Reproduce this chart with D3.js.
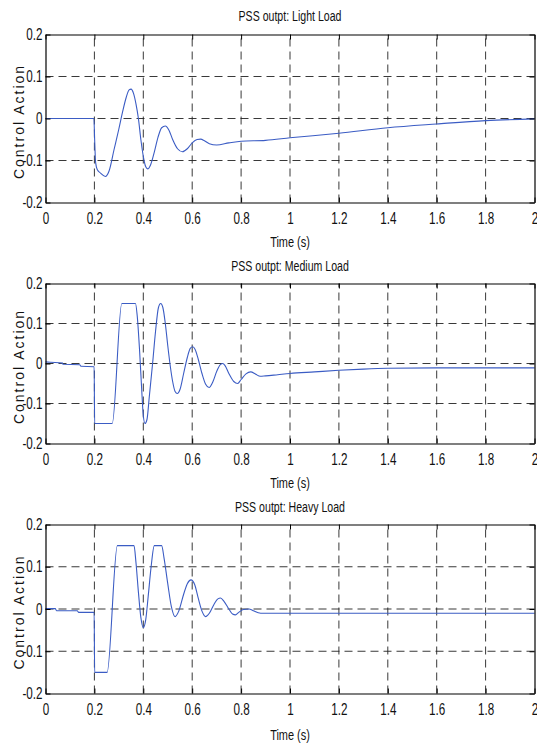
<!DOCTYPE html>
<html>
<head>
<meta charset="utf-8">
<script src="https://cdn.jsdelivr.net/npm/d3@7"></script>
<style>
  html, body { margin: 0; padding: 0; background: #fff; }
  svg { display: block; font-family: "Liberation Sans", Arial, Helvetica, sans-serif; }
</style>
</head>
<body>
<svg id="chart" width="537" height="744"></svg>
<script>
// Axis ticks shared by the three panels
const xTicks = [0, 0.2, 0.4, 0.6, 0.8, 1, 1.2, 1.4, 1.6, 1.8, 2];
const yTicks = [-0.2, -0.1, 0, 0.1, 0.2];

const panelTitles = ["PSS outpt: Light Load", "PSS outpt: Medium Load", "PSS outpt: Heavy Load"];
const xLabel = "Time (s)";
const yLabel = "Control Action";

// PSS output [time (s), control action]
const lightLoad = [
  [0, 0], [0.198, 0], [0.201, -0.05], [0.205, -0.105], [0.212, -0.122], [0.225, -0.13],
  [0.245, -0.138], [0.26, -0.125], [0.28, -0.075], [0.3, -0.025], [0.315, 0.015],
  [0.33, 0.05], [0.342, 0.068], [0.35, 0.07], [0.36, 0.06], [0.37, 0.035], [0.38, 0.0],
  [0.39, -0.05], [0.4, -0.09], [0.41, -0.115], [0.418, -0.12], [0.43, -0.11],
  [0.445, -0.08], [0.46, -0.045], [0.475, -0.022], [0.49, -0.018], [0.505, -0.028],
  [0.52, -0.05], [0.54, -0.072], [0.56, -0.079], [0.58, -0.072], [0.6, -0.058],
  [0.62, -0.05], [0.635, -0.049], [0.65, -0.053], [0.67, -0.06], [0.7, -0.063],
  [0.75, -0.058], [0.8, -0.054], [0.9, -0.052], [1.0, -0.046], [1.2, -0.035],
  [1.4, -0.022], [1.6, -0.013], [1.8, -0.005], [2.0, -0.001]
];

const mediumLoad = [
  [0, 0.004], [0.02, 0.003], [0.07, 0.001], [0.071, -0.002], [0.14, -0.003], [0.145, -0.007],
  [0.199, -0.008], [0.201, -0.15], [0.273, -0.15], [0.312, 0.15], [0.368, 0.15],
  [0.375, 0.12], [0.385, 0.03], [0.393, -0.06], [0.4, -0.13], [0.407, -0.15], [0.415, -0.14],
  [0.425, -0.08], [0.438, 0], [0.45, 0.08], [0.462, 0.14], [0.471, 0.15], [0.48, 0.14],
  [0.49, 0.1], [0.5, 0.045], [0.51, -0.005], [0.52, -0.045], [0.53, -0.07], [0.539, -0.075],
  [0.55, -0.065], [0.565, -0.025], [0.58, 0.015], [0.592, 0.038], [0.602, 0.042],
  [0.612, 0.035], [0.625, 0.01], [0.64, -0.025], [0.655, -0.052], [0.669, -0.06],
  [0.685, -0.045], [0.7, -0.02], [0.715, -0.003], [0.725, 0], [0.735, -0.006],
  [0.75, -0.025], [0.77, -0.045], [0.786, -0.05], [0.8, -0.04], [0.82, -0.026],
  [0.839, -0.021], [0.86, -0.027], [0.878, -0.032], [0.9, -0.031], [0.95, -0.028],
  [1.0, -0.025], [1.1, -0.021], [1.2, -0.017], [1.3, -0.014], [1.4, -0.012],
  [1.6, -0.011], [2.0, -0.011]
];

const heavyLoad = [
  [0, 0.001], [0.04, 0.001], [0.045, -0.004], [0.13, -0.004], [0.135, -0.008],
  [0.199, -0.008], [0.201, -0.15], [0.252, -0.15], [0.294, 0.15], [0.362, 0.15],
  [0.37, 0.11], [0.38, 0.04], [0.39, -0.02], [0.4, -0.044], [0.41, -0.025], [0.42, 0.03],
  [0.432, 0.1], [0.445, 0.15], [0.475, 0.15], [0.485, 0.12], [0.5, 0.06], [0.515, 0.005],
  [0.53, -0.018], [0.545, -0.005], [0.565, 0.035], [0.58, 0.06], [0.595, 0.069],
  [0.61, 0.058], [0.625, 0.025], [0.64, -0.005], [0.655, -0.018], [0.67, -0.01],
  [0.69, 0.012], [0.705, 0.024], [0.716, 0.026], [0.73, 0.018], [0.75, 0.0],
  [0.765, -0.012], [0.777, -0.014], [0.79, -0.008], [0.81, -0.001], [0.832, 0.0],
  [0.85, -0.004], [0.87, -0.009], [0.88, -0.01], [2.0, -0.01]
];

// Layout of the three stacked axes
const plotLeft = 45.5, plotRight = 534.5;
const squeeze = 0.73;          // narrow lettering
const lineColor = "#3b5cc4";

const panels = [
  { title: panelTitles[0], data: lightLoad,  top: 34.5,  bottom: 202.5, titleY: 21,  xLabelY: 247 },
  { title: panelTitles[1], data: mediumLoad, top: 283.5, bottom: 443.5, titleY: 271, xLabelY: 488 },
  { title: panelTitles[2], data: heavyLoad,  top: 524.5, bottom: 693.5, titleY: 512, xLabelY: 740 }
];

const svg = d3.select("#chart");
svg.append("rect").attr("width", 537).attr("height", 744).attr("fill", "#fff");

const fmt = d => String(+d.toFixed(1));

panels.forEach(p => {
  const x = d3.scaleLinear().domain([0, 2]).range([plotLeft, plotRight]);
  const y = d3.scaleLinear().domain([-0.2, 0.2]).range([p.bottom, p.top]);
  const g = svg.append("g");

  // dashed grid
  g.append("g").selectAll("line").data(xTicks.slice(1, -1)).join("line")
    .attr("x1", d => x(d)).attr("x2", d => x(d))
    .attr("y1", p.bottom).attr("y2", p.top)
    .attr("stroke", "#222").attr("stroke-width", 0.9).attr("stroke-dasharray", "8,5");
  g.append("g").selectAll("line").data(yTicks.slice(1, -1)).join("line")
    .attr("y1", d => y(d)).attr("y2", d => y(d))
    .attr("x1", plotLeft).attr("x2", plotRight)
    .attr("stroke", "#222").attr("stroke-width", 0.9).attr("stroke-dasharray", "8,5");

  // response curve
  const line = d3.line().x(d => x(d[0])).y(d => y(d[1])).curve(d3.curveMonotoneX);
  g.append("path").datum(p.data)
    .attr("d", line).attr("fill", "none")
    .attr("stroke", lineColor).attr("stroke-width", 1.1);

  // axes with inward ticks
  const bottomAxis = d3.axisBottom(x).tickValues(xTicks).tickFormat(fmt)
    .tickSizeInner(-5).tickSizeOuter(0).tickPadding(10);
  const leftAxis = d3.axisLeft(y).tickValues(yTicks).tickFormat(fmt)
    .tickSizeInner(-5).tickSizeOuter(0).tickPadding(3 / squeeze);
  const topAxis = d3.axisTop(x).tickValues(xTicks).tickFormat("")
    .tickSizeInner(-5).tickSizeOuter(0);
  const rightAxis = d3.axisRight(y).tickValues(yTicks).tickFormat("")
    .tickSizeInner(-5).tickSizeOuter(0);

  const styleAxis = sel => {
    sel.select(".domain").attr("stroke", "#000").attr("stroke-width", 1.2);
    sel.selectAll(".tick line").attr("stroke", "#000");
    sel.selectAll(".tick text")
      .attr("fill", "#111")
      .attr("font-size", 16)
      .attr("font-family", "Liberation Sans, Arial, sans-serif")
      .attr("transform", `scale(${squeeze},1)`);
  };

  g.append("g").attr("transform", `translate(0,${p.bottom})`).call(bottomAxis).call(styleAxis);
  g.append("g").attr("transform", `translate(${plotLeft},0)`).call(leftAxis).call(styleAxis);
  g.append("g").attr("transform", `translate(0,${p.top})`).call(topAxis).call(styleAxis);
  g.append("g").attr("transform", `translate(${plotRight},0)`).call(rightAxis).call(styleAxis);

  // title
  g.append("text")
    .attr("transform", `translate(${(plotLeft + plotRight) / 2},${p.titleY}) scale(${squeeze},1)`)
    .attr("text-anchor", "middle").attr("font-size", 14.5).attr("fill", "#111")
    .text(p.title);

  // x label
  g.append("text")
    .attr("transform", `translate(${(plotLeft + plotRight) / 2},${p.xLabelY}) scale(${squeeze},1)`)
    .attr("text-anchor", "middle").attr("font-size", 15).attr("fill", "#111")
    .text(xLabel);

  // y label
  g.append("text")
    .attr("transform", `translate(24,${(p.top + p.bottom) / 2 + 3}) rotate(-90)`)
    .attr("text-anchor", "middle").attr("font-size", 14).attr("letter-spacing", 2)
    .attr("fill", "#111")
    .text(yLabel);
});
</script>
</body>
</html>
